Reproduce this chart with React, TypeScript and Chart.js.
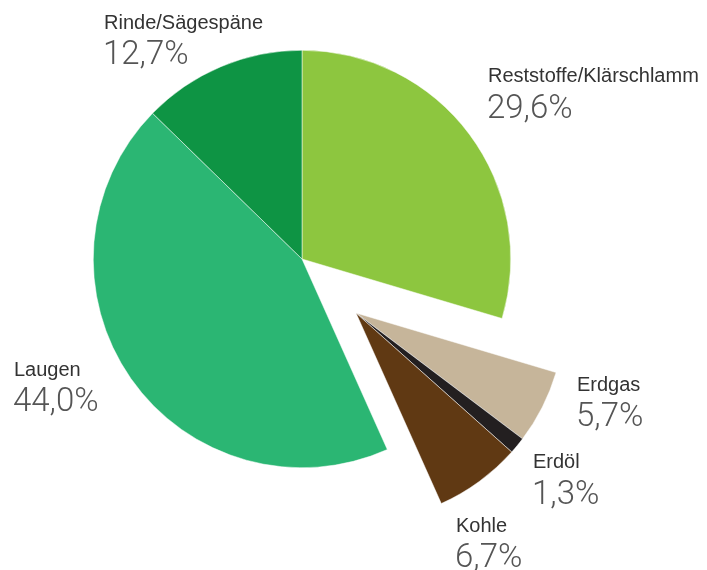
import React, { useEffect, useRef } from "react";
import { Chart, registerables } from "chart.js";

Chart.register(...registerables);

// ---- data ----
const categories = ["Reststoffe/Klärschlamm", "Erdgas", "Erdöl", "Kohle", "Laugen", "Rinde/Sägespäne"];
const shares = [29.6, 5.7, 1.3, 6.7, 44.0, 12.7];
const valueLabels = ["29,6%", "5,7%", "1,3%", "6,7%", "44,0%", "12,7%"];
const colors = ["#8dc63f", "#c6b59a", "#231f20", "#603913", "#2bb673", "#0e9444"];
const exploded = [false, true, true, true, false, false];

// ---- layout (label anchor: x, name baseline, value baseline) ----
const labelX = [488, 577, 533, 456, 14, 104];
const nameY = [82, 391, 468, 532, 376, 29];
const valueY = [118, 426, 504, 567, 411, 64];

const W = 707;
const H = 570;
const PAD = { left: 93, top: 50, right: 196, bottom: 102 };
const EXPLODE_DX = 54;
const EXPLODE_DY = 54;

const labelPlugin = {
  id: "sliceLabels",
  afterDraw(chart: any) {
    const ctx = chart.ctx;
    ctx.save();
    ctx.textAlign = "left";
    ctx.textBaseline = "alphabetic";
    categories.forEach((name, i) => {
      ctx.fillStyle = "#333333";
      ctx.font = "400 20px 'Liberation Sans', Arial, sans-serif";
      ctx.fillText(name, labelX[i], nameY[i]);
      ctx.fillStyle = "#555555";
      ctx.font = "300 33px Roboto, 'Liberation Sans', sans-serif";
      ctx.fillText(valueLabels[i], labelX[i] - 1, valueY[i]);
    });
    ctx.restore();
  },
};

function makeConfig(showExploded: boolean, withLabels: boolean): any {
  return {
    type: "pie",
    data: {
      labels: categories,
      datasets: [
        {
          data: shares,
          backgroundColor: colors.map((c, i) => (exploded[i] === showExploded ? c : "rgba(0,0,0,0)")),
          borderColor: colors.map((c, i) => (exploded[i] === showExploded ? "#ffffff" : "rgba(0,0,0,0)")),
          borderWidth: 0.5,
          hoverOffset: 0,
          hoverBorderWidth: 0.5,
        },
      ],
    },
    options: {
      responsive: false,
      animation: false,
      devicePixelRatio: 1,
      events: [],
      layout: { padding: PAD },
      plugins: {
        legend: { display: false },
        tooltip: { enabled: false },
        title: { display: false },
      },
    },
    plugins: withLabels ? [labelPlugin] : [],
  };
}

export default function App() {
  const baseRef = useRef<HTMLCanvasElement | null>(null);
  const explRef = useRef<HTMLCanvasElement | null>(null);

  useEffect(() => {
    const a = new Chart(baseRef.current as HTMLCanvasElement, makeConfig(false, true));
    const b = new Chart(explRef.current as HTMLCanvasElement, makeConfig(true, false));
    return () => {
      a.destroy();
      b.destroy();
    };
  }, []);

  return (
    <div
      style={{
        position: "fixed",
        left: 0,
        top: 0,
        width: W,
        height: H,
        overflow: "hidden",
        background: "#ffffff",
      }}
    >
      <canvas
        ref={baseRef}
        width={W}
        height={H}
        style={{ position: "absolute", left: 0, top: 0, width: W, height: H }}
      />
      <canvas
        ref={explRef}
        width={W}
        height={H}
        style={{ position: "absolute", left: EXPLODE_DX, top: EXPLODE_DY, width: W, height: H }}
      />
    </div>
  );
}
